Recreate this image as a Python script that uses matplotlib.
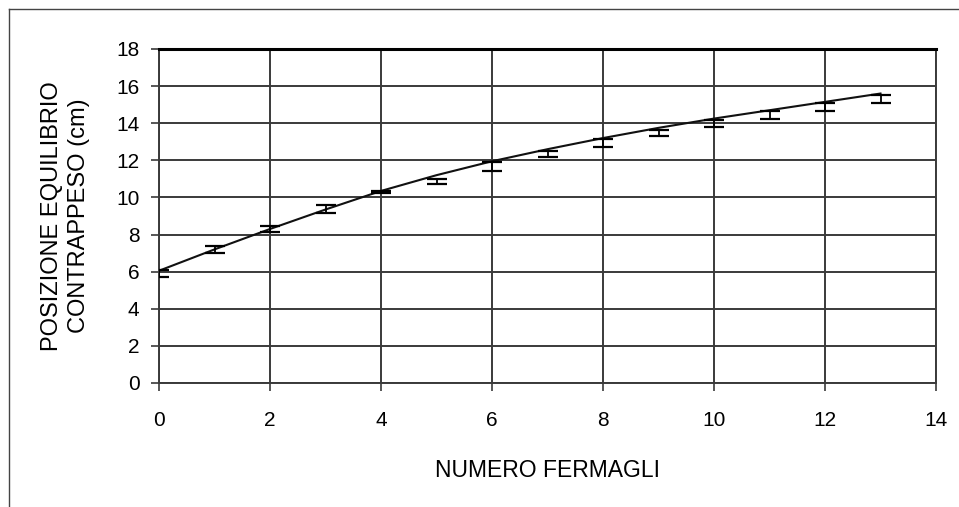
import matplotlib
matplotlib.use("Agg")
import matplotlib.pyplot as plt
from matplotlib.lines import Line2D

# measured points (number of clips vs. equilibrium position)
n_clips = [0, 1, 2, 3, 4, 5, 6, 7, 8, 9, 10, 11, 12, 13]
position = [5.9, 7.2, 8.3, 9.37, 10.3, 10.85, 11.65, 12.33, 12.93, 13.46, 14.0, 14.45, 14.87, 15.31]
pos_err = [0.2, 0.2, 0.15, 0.21, 0.05, 0.14, 0.24, 0.15, 0.22, 0.15, 0.2, 0.21, 0.2, 0.21]

# trend line
trend = [6.05, 7.2, 8.3, 9.35, 10.35, 11.2, 11.95, 12.6, 13.2, 13.75, 14.25, 14.7, 15.15, 15.6]

x_ticks = [0, 2, 4, 6, 8, 10, 12, 14]
y_ticks = [0, 2, 4, 6, 8, 10, 12, 14, 16, 18]

plt.rcParams["font.family"] = ["Liberation Sans", "DejaVu Sans"]

W, H = 959, 507
fig = plt.figure(figsize=(W / 100, H / 100), dpi=100)
ax = fig.add_axes([159 / W, 1 - 383 / H, (936 - 159) / W, (383 - 49) / H])

GRID = "#3a3a3a"
ax.set_axisbelow(True)
ax.grid(True, color=GRID, lw=1.4)

ax.plot(n_clips, trend, color="#111111", lw=1.5, zorder=3)
ax.errorbar(n_clips, position, yerr=pos_err, fmt="none", ecolor="black",
            elinewidth=1.3, capsize=7, capthick=1.6, zorder=4)

ax.set_xlim(0, 14)
ax.set_ylim(0, 18)
ax.set_xticks(x_ticks)
ax.set_yticks(y_ticks)
ax.tick_params(axis="both", direction="out", length=6, width=1.2,
               color=GRID, labelsize=15)
ax.tick_params(axis="x", pad=14)
ax.tick_params(axis="y", pad=8)

for side in ["left", "bottom", "right"]:
    ax.spines[side].set_color(GRID)
    ax.spines[side].set_linewidth(1.4)
ax.spines["top"].set_color("black")
ax.spines["top"].set_linewidth(2.2)

ax.set_xlabel("NUMERO FERMAGLI", fontsize=16.5, labelpad=21)
ax.set_ylabel("POSIZIONE EQUILIBRIO\nCONTRAPPESO (cm)", fontsize=17,
              labelpad=19, linespacing=1.3)

# outer frame (only top and left edges visible)
fy = 1 - 8.5 / H
fx = 8.5 / W
fig.add_artist(Line2D([fx, 1], [fy, fy], transform=fig.transFigure,
                      color="#444444", lw=1.0))
fig.add_artist(Line2D([fx, fx], [0, fy], transform=fig.transFigure,
                      color="#444444", lw=1.0))

fig.savefig("out.png", dpi=100)
